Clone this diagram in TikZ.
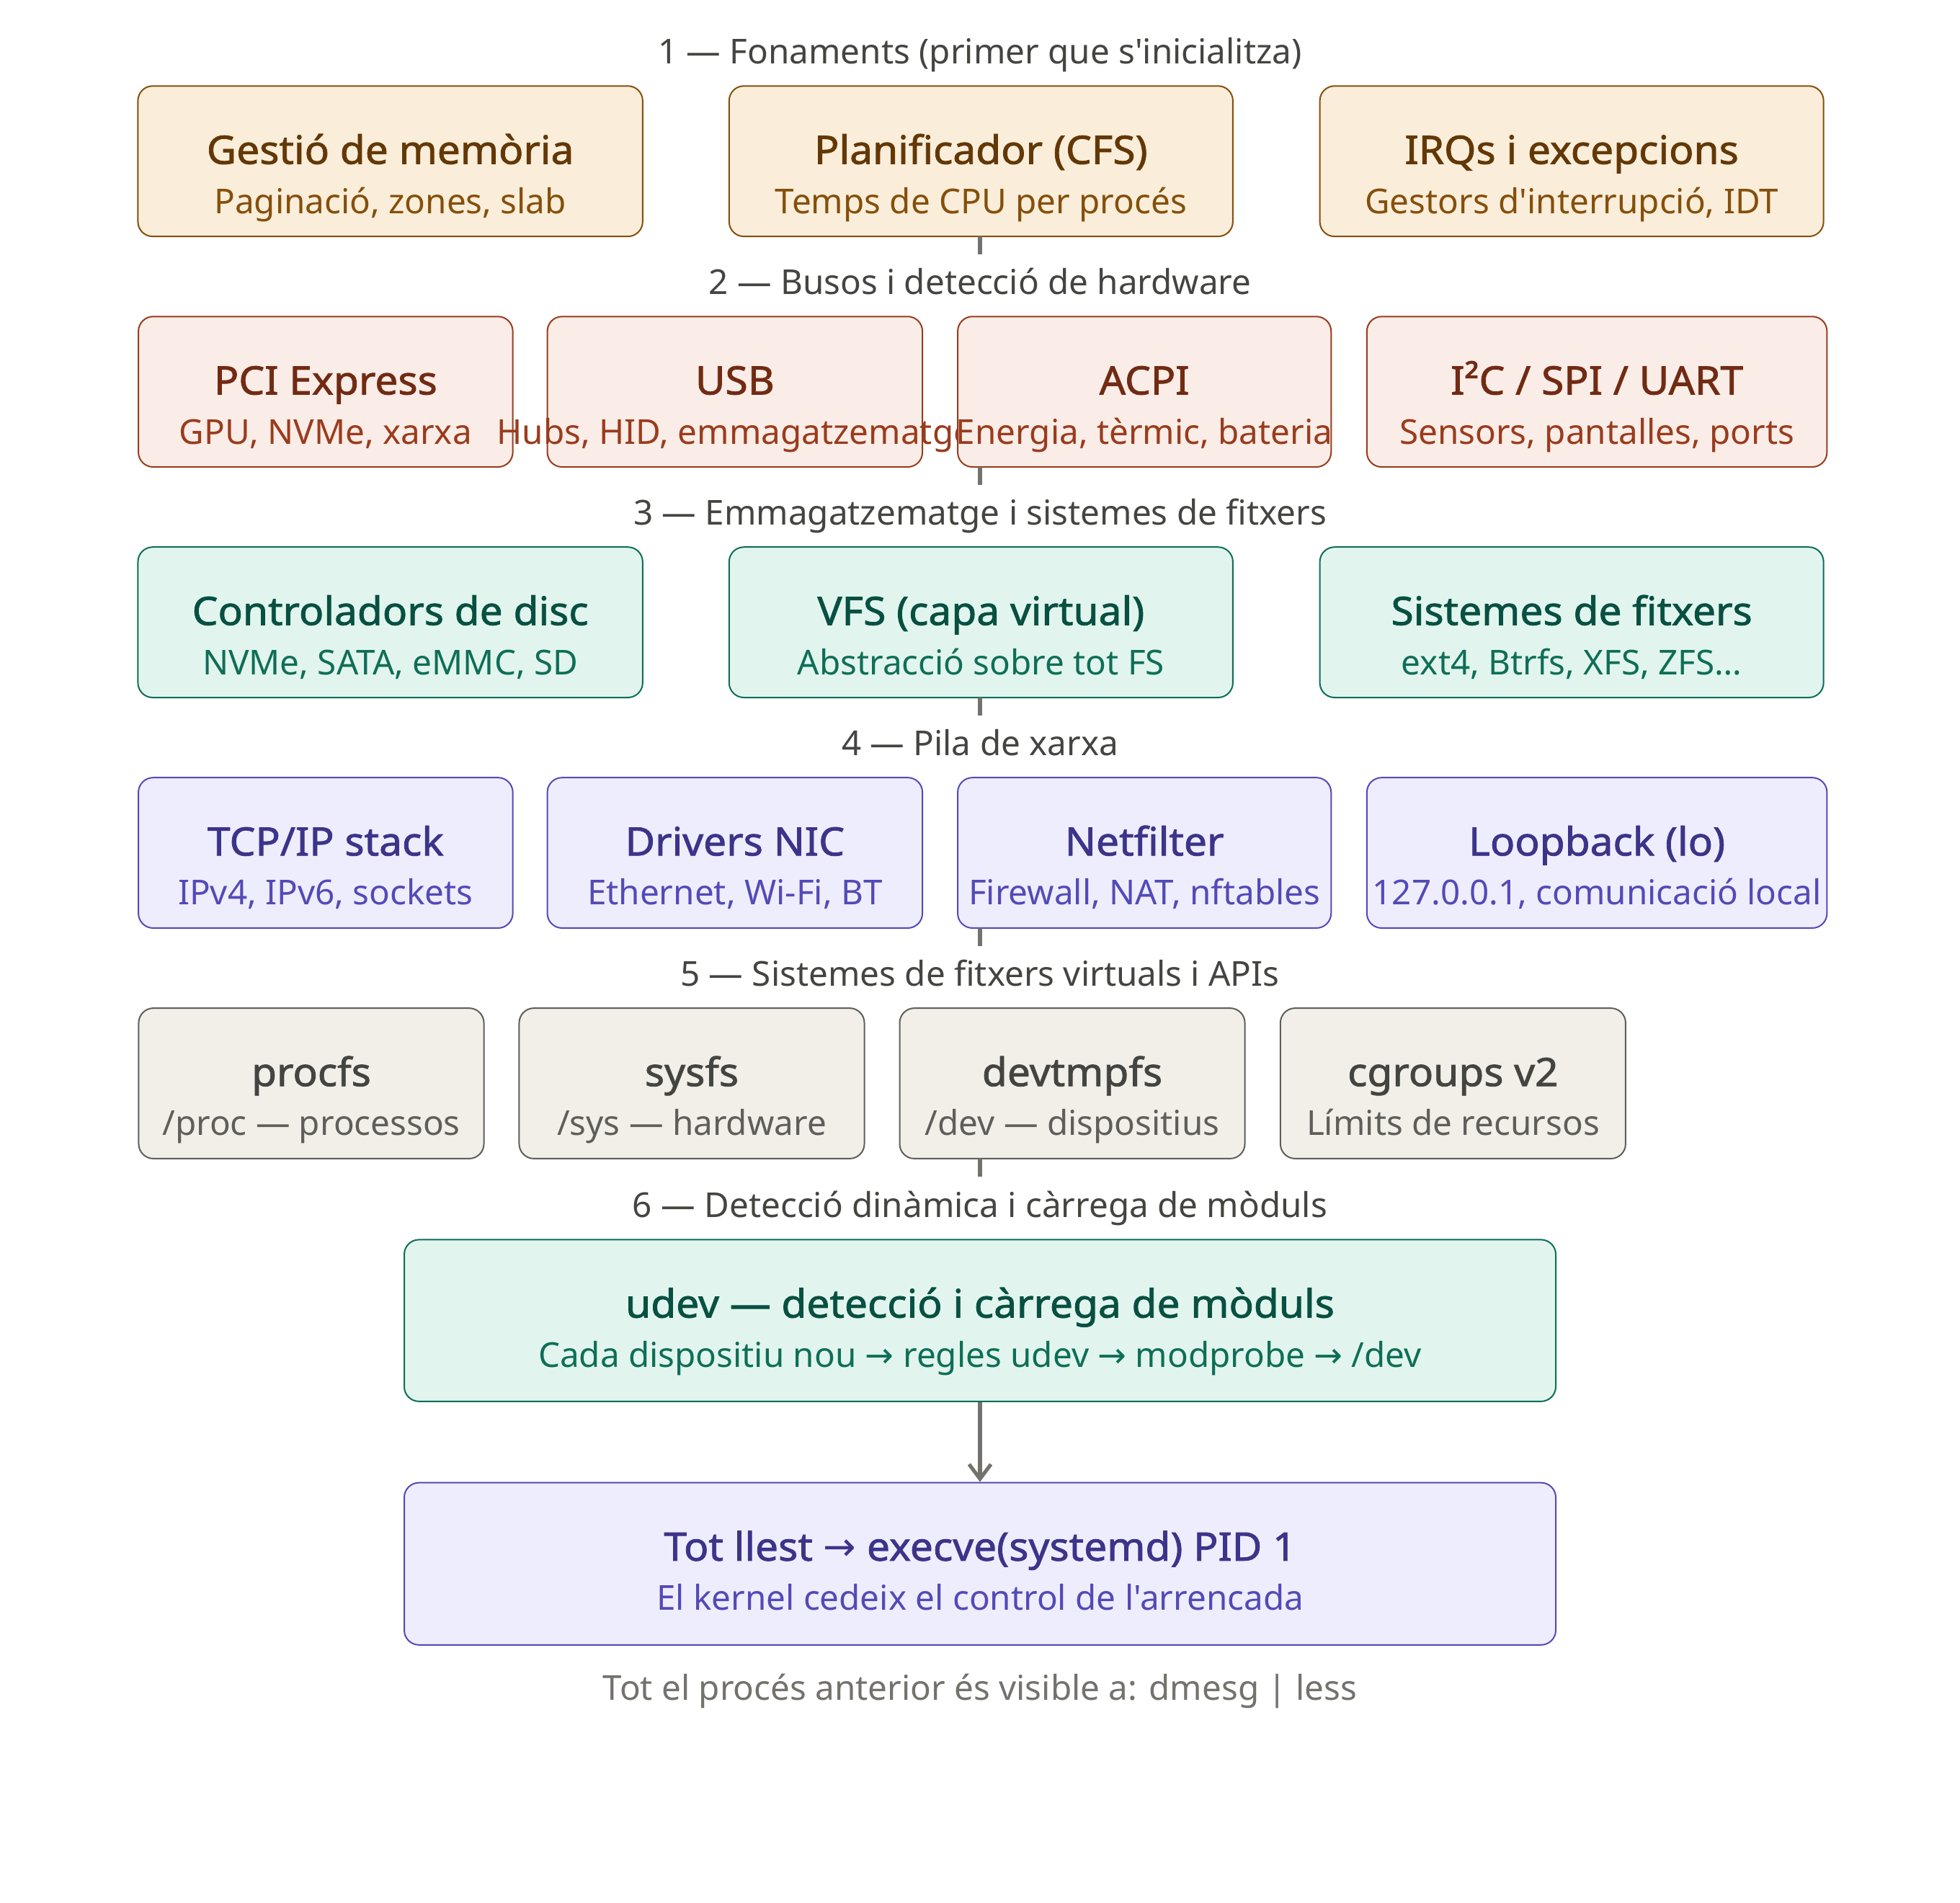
\documentclass[tikz,border=0pt]{standalone}
\usepackage{fontspec}
\setmainfont{Noto Sans}[Ligatures=TeXOff]
\newfontfamily\ttlfont{Noto Sans}[Ligatures=TeXOff, FakeBold=1.5, FakeStretch=1.045]
\newfontfamily\arrfont{DejaVu Sans}
\newcommand\rarr{{\arrfont →}}
\usetikzlibrary{arrows.meta}
\definecolor{amberF}{HTML}{FAEEDA}\definecolor{amberS}{HTML}{854F0B}\definecolor{amberT}{HTML}{633806}
\definecolor{coralF}{HTML}{FAECE7}\definecolor{coralS}{HTML}{993C1D}\definecolor{coralT}{HTML}{712B13}
\definecolor{tealF}{HTML}{E1F5EE}\definecolor{tealS}{HTML}{0F6E56}\definecolor{tealT}{HTML}{085041}
\definecolor{purpF}{HTML}{EEEDFE}\definecolor{purpS}{HTML}{534AB7}\definecolor{purpT}{HTML}{3C3489}
\definecolor{grayF}{HTML}{F1EFE8}\definecolor{grayS}{HTML}{5F5E5A}\definecolor{grayT}{HTML}{444441}
\definecolor{hdr}{HTML}{444441}
\definecolor{conn}{HTML}{73726C}
\tikzset{
  kb/.style={draw=#1S, fill=#1F, line width=0.5pt, rounded corners=5.1pt, rectangle, inner sep=0pt},
  kt/.style={text=#1T, font=\ttlfont\fontsize{13.6pt}{16pt}\selectfont, inner sep=0pt, anchor=base},
  ks/.style={text=#1S, font=\fontsize{11.9pt}{14pt}\selectfont, inner sep=0pt, anchor=base},
  hd/.style={text=hdr, font=\fontsize{11.9pt}{14pt}\selectfont, inner sep=0pt, anchor=base},
  ft/.style={text=conn, font=\fontsize{11.9pt}{14pt}\selectfont, inner sep=0pt, anchor=base},
  stub/.style={draw=conn, line width=1.275pt},
  arr/.style={draw=conn, line width=1.275pt, -{Straight Barb[length=5.1pt, width=7.6pt, line width=1.275pt]}}
}
\newcommand\kbox[8]{%
  \node[kb=#2, minimum width={(#5-#3)*0.85pt}, minimum height={(#6-#4)*0.85pt}] (#1) at ({(#3+#5)/2},{(#4+#6)/2}) {};
  \node[kt=#2] (#1t) at ({(#3+#5)/2},{#4+31.8}) {#7};
  \node[ks=#2] (#1s) at ({(#3+#5)/2},{#4+52}) {#8};
}
\begin{document}
\begin{tikzpicture}[x=0.85pt, y=-0.85pt]
\useasboundingbox[fill=white] (0,0) rectangle (800,776.47);
% Row 1
\node[hd] (h1) at (400,26) {1 — Fonaments (primer que s'inicialitza)};
\kbox{b11}{amber}{56.3}{35.1}{262.3}{96.5}{Gestió de memòria}{Paginació, zones, slab}
\kbox{b12}{amber}{297.6}{35.1}{503.2}{96.5}{Planificador (CFS)}{Temps de CPU per procés}
\kbox{b13}{amber}{538.7}{35.1}{744.3}{96.5}{IRQs i excepcions}{Gestors d'interrupció, IDT}
\coordinate (s1a) at (400,96.5);
\coordinate (s1b) at (400,103.8);
\draw[stub] (s1a) -- (s1b);
% Row 2
\node[hd] (h2) at (400,120.1) {2 — Busos i detecció de hardware};
\kbox{b21}{coral}{56.5}{129.2}{209.3}{190.6}{PCI Express}{GPU, NVMe, xarxa}
\kbox{b22}{coral}{223.4}{129.2}{376.5}{190.6}{USB}{Hubs, HID, emmagatzematge}
\kbox{b23}{coral}{390.9}{129.2}{543.3}{190.6}{ACPI}{Energia, tèrmic, bateria}
\kbox{b24}{coral}{557.9}{129.2}{745.7}{190.6}{I²C / SPI / UART}{Sensors, pantalles, ports}
\coordinate (s2a) at (400,190.6);
\coordinate (s2b) at (400,197.9);
\draw[stub] (s2a) -- (s2b);
% Row 3
\node[hd] (h3) at (400,214.2) {3 — Emmagatzematge i sistemes de fitxers};
\kbox{b31}{teal}{56.3}{223.3}{262.3}{284.7}{Controladors de disc}{NVMe, SATA, eMMC, SD}
\kbox{b32}{teal}{297.6}{223.3}{503.2}{284.7}{VFS (capa virtual)}{Abstracció sobre tot FS}
\kbox{b33}{teal}{538.7}{223.3}{744.3}{284.7}{Sistemes de fitxers}{ext4, Btrfs, XFS, ZFS…}
\coordinate (s3a) at (400,284.7);
\coordinate (s3b) at (400,292);
\draw[stub] (s3a) -- (s3b);
% Row 4
\node[hd] (h4) at (400,308.3) {4 — Pila de xarxa};
\kbox{b41}{purp}{56.5}{317.4}{209.3}{378.8}{TCP/IP stack}{IPv4, IPv6, sockets}
\kbox{b42}{purp}{223.4}{317.4}{376.5}{378.8}{Drivers NIC}{Ethernet, Wi-Fi, BT}
\kbox{b43}{purp}{390.9}{317.4}{543.3}{378.8}{Netfilter}{Firewall, NAT, nftables}
\kbox{b44}{purp}{557.9}{317.4}{745.7}{378.8}{Loopback (lo)}{127.0.0.1, comunicació local}
\coordinate (s4a) at (400,378.8);
\coordinate (s4b) at (400,386.1);
\draw[stub] (s4a) -- (s4b);
% Row 5
\node[hd] (h5) at (400,402.4) {5 — Sistemes de fitxers virtuals i APIs};
\kbox{b51}{gray}{56.6}{411.5}{197.5}{472.9}{procfs}{/proc — processos}
\kbox{b52}{gray}{211.9}{411.5}{352.8}{472.9}{sysfs}{/sys — hardware}
\kbox{b53}{gray}{367.2}{411.5}{508.1}{472.9}{devtmpfs}{/dev — dispositius}
\kbox{b54}{gray}{522.6}{411.5}{663.5}{472.9}{cgroups v2}{Límits de recursos}
\coordinate (s5a) at (400,472.9);
\coordinate (s5b) at (400,480.2);
\draw[stub] (s5a) -- (s5b);
% Row 6
\node[hd] (h6) at (400,496.8) {6 — Detecció dinàmica i càrrega de mòduls};
\kbox{udev}{teal}{165}{506}{635}{572}{udev — detecció i càrrega de mòduls}{Cada dispositiu nou \rarr{} regles udev \rarr{} modprobe \rarr{} /dev}
\kbox{fin}{purp}{165}{605.2}{635}{671.4}{Tot llest \rarr{} execve(systemd) PID 1}{El kernel cedeix el control de l'arrencada}
\draw[arr] (udev) -- (fin);
\node[ft] (foot) at (400,694) {Tot el procés anterior és visible a: dmesg | less};
\end{tikzpicture}
\end{document}
